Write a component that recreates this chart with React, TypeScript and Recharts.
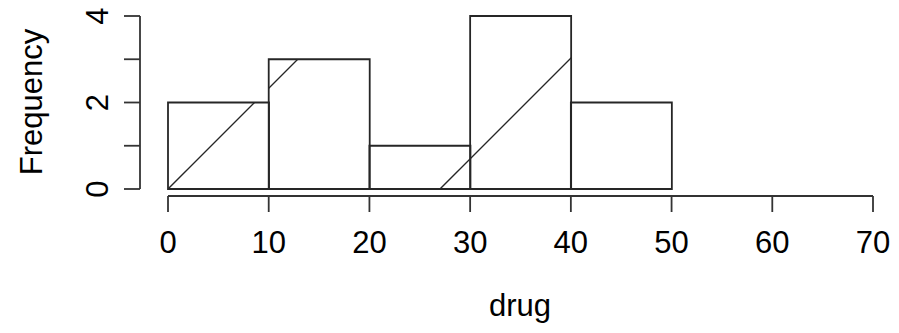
import React from 'react';
import { BarChart, Bar, XAxis, YAxis } from 'recharts';

const BIN_LABELS = ['0-10', '10-20', '20-30', '30-40', '40-50', '50-60', '60-70'];
const BIN_STARTS = [0, 10, 20, 30, 40, 50, 60];
const COUNTS = [2, 3, 1, 4, 2, null, null];
const X_TICKS = [0, 10, 20, 30, 40, 50, 60, 70];
const Y_TICKS = [0, 1, 2, 3, 4];
const Y_LABELS = [0, 2, 4];

const data = BIN_LABELS.map((bin, i) => ({ bin, start: BIN_STARTS[i], count: COUNTS[i] }));

const FONT = '"Liberation Sans", Arial, Helvetica, sans-serif';
const INK = '#262626';
const AXIS = { stroke: '#333', strokeWidth: 1.8 };

// R draws its axes pulled away from the plot region
const css = `
  body { margin: 0; }
  .recharts-xAxis { transform: translate(0px, 7px); }
  .recharts-yAxis { transform: translate(-28px, 0px); }
`;

function YTick(props: any) {
  const { x, y, payload } = props;
  if (!Y_LABELS.includes(payload.value)) return <g />;
  return (
    <text
      x={x}
      y={y}
      transform={`rotate(-90 ${x} ${y})`}
      textAnchor="middle"
      fontFamily={FONT}
      fontSize={31}
      fill="#000"
    >
      {payload.value}
    </text>
  );
}

export default function App() {
  return (
    <div>
      <style>{css}</style>
      <BarChart
        width={899}
        height={333}
        data={data}
        margin={{ top: 16, right: 26, left: 0, bottom: 0 }}
        barCategoryGap={0}
        barGap={0}
      >
        <defs>
          {/* sparse 45° shading lines, like hist(density=...) */}
          <pattern id="hatch" patternUnits="userSpaceOnUse" x={85} y={0} width={272} height={272}>
            <path d="M0,272 L272,0 M-2,2 L2,-2 M270,274 L274,270" stroke={INK} strokeWidth={1.4} />
          </pattern>
        </defs>
        <XAxis xAxisId="cat" dataKey="bin" hide height={0} />
        <XAxis
          xAxisId="num"
          dataKey="start"
          type="number"
          domain={[0, 70]}
          allowDataOverflow
          ticks={X_TICKS}
          interval={0}
          height={144}
          tickSize={16}
          tickMargin={26}
          axisLine={AXIS}
          tickLine={AXIS}
          tick={{ fill: '#000', fontSize: 31, fontFamily: FONT }}
        />
        <YAxis
          domain={[0, 4]}
          ticks={Y_TICKS}
          interval={0}
          width={168}
          tickSize={16}
          tickMargin={44}
          axisLine={AXIS}
          tickLine={AXIS}
          tick={<YTick />}
        />
        <Bar
          xAxisId="cat"
          dataKey="count"
          fill="url(#hatch)"
          stroke={INK}
          strokeWidth={1.8}
          isAnimationActive={false}
        />
        <text x={520} y={316} textAnchor="middle" fontFamily={FONT} fontSize={31} fill="#000">
          drug
        </text>
        <text
          x={42}
          y={102}
          transform="rotate(-90 42 102)"
          textAnchor="middle"
          fontFamily={FONT}
          fontSize={31}
          fill="#000"
        >
          Frequency
        </text>
      </BarChart>
    </div>
  );
}
